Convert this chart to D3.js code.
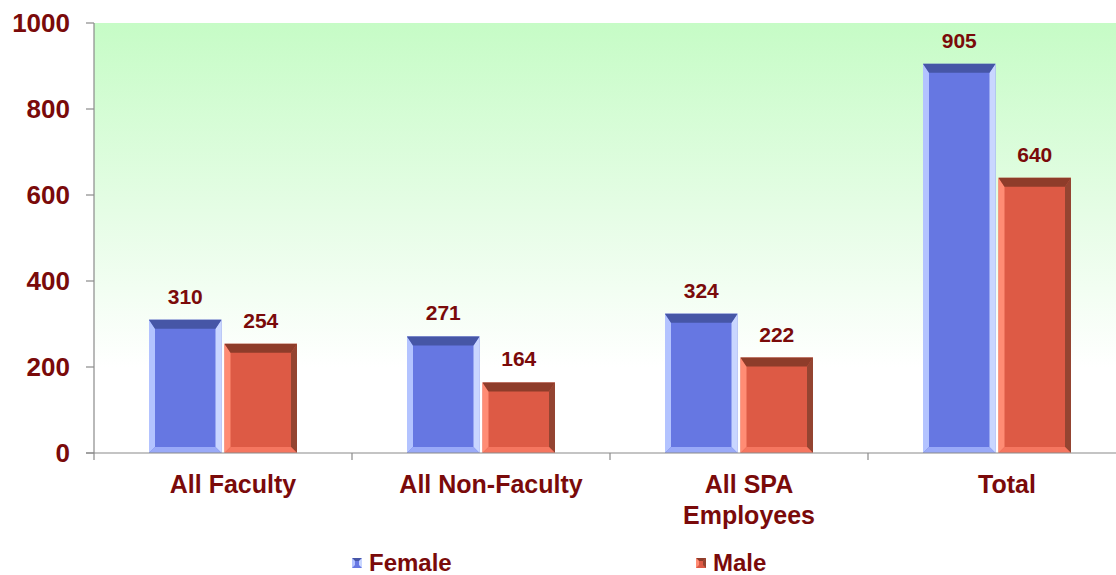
<!DOCTYPE html>
<html>
<head>
<meta charset="utf-8">
<script src="https://cdn.jsdelivr.net/npm/d3@7"></script>
<style>
  body { margin: 0; background: #fff; }
  text { font-family: "Liberation Sans", Arial, sans-serif; font-weight: bold; fill: #7a0a0a; }
</style>
</head>
<body>
<div id="chart"></div>
<script>
// Employees by category, female vs male
const categories = ['All Faculty', 'All Non-Faculty', 'All SPA Employees', 'Total'];
const categoryLines = [['All Faculty'], ['All Non-Faculty'], ['All SPA', 'Employees'], ['Total']];
const seriesNames = ['Female', 'Male'];
const femaleValues = [310, 271, 324, 905];
const maleValues = [254, 164, 222, 640];
const yTicks = [0, 200, 400, 600, 800, 1000];

(function() {
  const W = 1116, H = 575;
  const margin = { top: 23, right: -10, bottom: 122, left: 94 };
  const width = W - margin.left - margin.right;
  const height = H - margin.top - margin.bottom;

  const svg = d3.select('#chart').append('svg')
    .attr('width', W)
    .attr('height', H);

  const defs = svg.append('defs');

  // plot background: pale green fading to white
  const bg = defs.append('linearGradient')
    .attr('id', 'bg').attr('x1', 0).attr('y1', 0).attr('x2', 0).attr('y2', 1);
  bg.append('stop').attr('offset', '0%').attr('stop-color', '#c6fcc6');
  bg.append('stop').attr('offset', '45%').attr('stop-color', '#e6fde6');
  bg.append('stop').attr('offset', '80%').attr('stop-color', '#ffffff');

  const g = svg.append('g')
    .attr('transform', `translate(${margin.left}, ${margin.top})`);

  g.append('rect')
    .attr('x', 0).attr('y', 0)
    .attr('width', width).attr('height', height)
    .attr('fill', 'url(#bg)');

  const x0 = d3.scaleBand()
    .domain(categories)
    .range([0, width])
    .paddingInner(0)
    .paddingOuter(0);

  const x1 = d3.scaleBand()
    .domain(seriesNames)
    .range([55, x0.bandwidth() - 55])
    .paddingInner(0.04);

  const y = d3.scaleLinear()
    .domain([0, 1000])
    .range([height, 0]);

  // bevel colours per series: face, top, left, right, bottom
  const bevel = {
    Female: { face: '#6677e2', top: '#4656a6', left: '#b3c3ff', right: '#c9d6ff', bottom: '#9aaaf8' },
    Male:   { face: '#dd5a45', top: '#8e3c2a', left: '#ff8c74', right: '#944431', bottom: '#f57660' }
  };

  const rows = [];
  categories.forEach((c, i) => {
    rows.push({ cat: c, series: 'Female', value: femaleValues[i] });
    rows.push({ cat: c, series: 'Male', value: maleValues[i] });
  });

  const bars = g.selectAll('.bar')
    .data(rows)
    .enter()
    .append('g')
    .attr('class', 'bar');

  bars.each(function(d) {
    const sel = d3.select(this);
    const bx = x0(d.cat) + x1(d.series);
    const bw = x1.bandwidth();
    const top = y(d.value);
    const bot = y(0);
    const col = bevel[d.series];
    const tb = 9, sb = 6, bb = 6;

    sel.append('rect')
      .attr('x', bx).attr('y', top)
      .attr('width', bw).attr('height', bot - top)
      .attr('fill', col.face);

    // left strip
    sel.append('polygon')
      .attr('points', [[bx, top], [bx + sb, top + tb], [bx + sb, bot - bb], [bx, bot]].join(' '))
      .attr('fill', col.left);
    // right strip
    sel.append('polygon')
      .attr('points', [[bx + bw, top], [bx + bw - sb, top + tb], [bx + bw - sb, bot - bb], [bx + bw, bot]].join(' '))
      .attr('fill', col.right);
    // bottom strip
    sel.append('polygon')
      .attr('points', [[bx, bot], [bx + sb, bot - bb], [bx + bw - sb, bot - bb], [bx + bw, bot]].join(' '))
      .attr('fill', col.bottom);
    // top strip
    sel.append('polygon')
      .attr('points', [[bx, top], [bx + bw, top], [bx + bw - sb, top + tb], [bx + sb, top + tb]].join(' '))
      .attr('fill', col.top);

    // value label
    sel.append('text')
      .attr('x', bx + bw / 2)
      .attr('y', top - 16)
      .attr('text-anchor', 'middle')
      .style('font-size', '21px')
      .text(d.value);
  });

  // y axis
  g.append('line')
    .attr('x1', 0).attr('x2', 0)
    .attr('y1', 0).attr('y2', height)
    .attr('stroke', '#8a8a8a').attr('stroke-width', 1.2);

  const yTick = g.selectAll('.ytick')
    .data(yTicks)
    .enter()
    .append('g')
    .attr('class', 'ytick')
    .attr('transform', d => `translate(0, ${y(d)})`);

  yTick.append('line')
    .attr('x1', -8).attr('x2', 0)
    .attr('stroke', '#8a8a8a').attr('stroke-width', 1.2);

  yTick.append('text')
    .attr('x', -24)
    .attr('dy', '0.36em')
    .attr('text-anchor', 'end')
    .style('font-size', '26px')
    .text(d => d);

  // x axis
  g.append('line')
    .attr('x1', -8).attr('x2', width)
    .attr('y1', height).attr('y2', height)
    .attr('stroke', '#8a8a8a').attr('stroke-width', 1.2);

  g.selectAll('.xtick')
    .data(categories)
    .enter()
    .append('line')
    .attr('class', 'xtick')
    .attr('x1', d => x0(d)).attr('x2', d => x0(d))
    .attr('y1', height).attr('y2', height + 7)
    .attr('stroke', '#8a8a8a').attr('stroke-width', 1.2);

  const xLabels = g.selectAll('.xlabel')
    .data(categories)
    .enter()
    .append('text')
    .attr('class', 'xlabel')
    .attr('text-anchor', 'middle')
    .attr('transform', d => `translate(${x0(d) + x0.bandwidth() / 2 + 10}, ${height + 40})`)
    .style('font-size', '25px');

  xLabels.selectAll('tspan')
    .data((d, i) => categoryLines[i])
    .enter()
    .append('tspan')
    .attr('x', 0)
    .attr('dy', (d, i) => i === 0 ? 0 : 31)
    .text(d => d);

  // legend
  const legendX = [352, 696];
  const legend = svg.selectAll('.legend')
    .data(seriesNames)
    .enter()
    .append('g')
    .attr('class', 'legend')
    .attr('transform', (d, i) => `translate(${legendX[i]}, 558)`);

  legend.each(function(d) {
    const sel = d3.select(this);
    const col = bevel[d];
    sel.append('rect').attr('width', 10).attr('height', 10).attr('fill', col.face);
    sel.append('polygon').attr('points', '0,0 10,0 7,3 3,3').attr('fill', col.top);
    sel.append('polygon').attr('points', '0,0 3,3 3,7 0,10').attr('fill', col.left);
    sel.append('polygon').attr('points', '10,0 7,3 7,7 10,10').attr('fill', col.right);
  });

  legend.append('text')
    .attr('x', 17)
    .attr('y', 13)
    .style('font-size', '24px')
    .text(d => d);
})();
</script>
</body>
</html>
